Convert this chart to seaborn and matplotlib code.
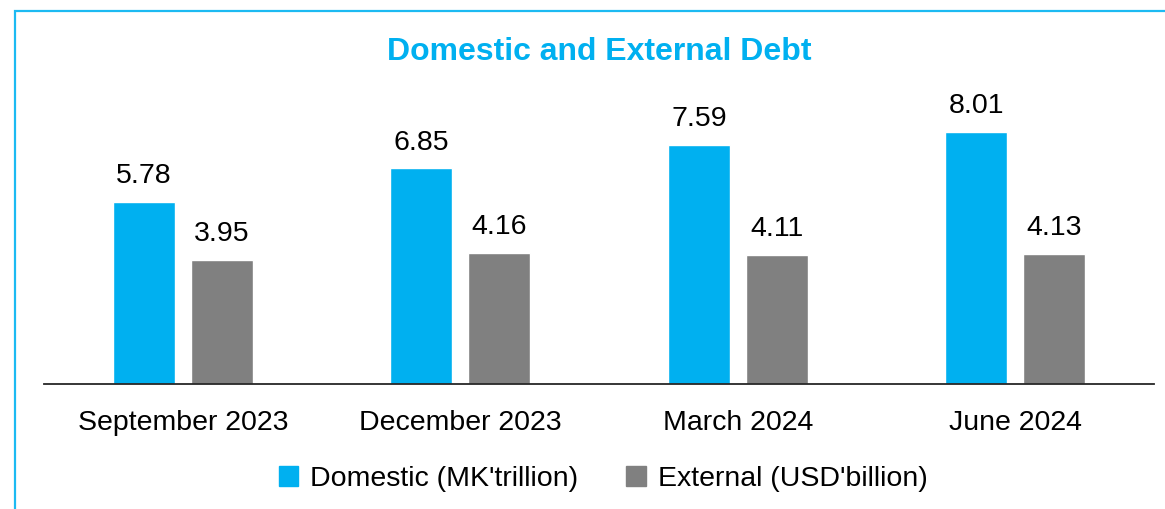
import matplotlib
matplotlib.use("Agg")
import matplotlib.pyplot as plt
import seaborn as sns
import pandas as pd
from matplotlib.patches import Rectangle

categories = ["September 2023", "December 2023", "March 2024", "June 2024"]
domestic = [5.78, 6.85, 7.59, 8.01]
external = [3.95, 4.16, 4.11, 4.13]
series_names = ["Domestic (MK'trillion)", "External (USD'billion)"]
colors = ["#00B0F0", "#808080"]

df = pd.DataFrame({
    "period": categories * 2,
    "value": domestic + external,
    "series": [series_names[0]] * 4 + [series_names[1]] * 4,
})

sns.set_theme(style="white")
plt.rcParams["font.family"] = ["Liberation Sans", "DejaVu Sans"]
plt.rcParams["text.color"] = "black"

W, H = 1165, 509
fig = plt.figure(figsize=(W / 100, H / 100), dpi=100)
ax_top = 1 - (384 - 9 * 31.5) / H
ax = fig.add_axes([44 / W, (H - 384) / H, (1154 - 44) / W, ax_top - (H - 384) / H])

sns.barplot(data=df, x="period", y="value", hue="series", palette=colors,
            width=0.56, gap=0.2, ax=ax, legend=False, saturation=1)

ax.set_xlim(-0.5, 3.5)
ax.set_ylim(0, 9)
ax.set_xlabel("")
ax.set_ylabel("")
ax.set_yticks([])
for s in ["top", "right", "left"]:
    ax.spines[s].set_visible(False)
ax.spines["bottom"].set_color("#262626")
ax.spines["bottom"].set_linewidth(1.3)
ax.tick_params(axis="x", length=0, labelsize=20.5, colors="black", pad=19)

for cont in ax.containers:
    ax.bar_label(cont, fmt="%.2f", padding=9, fontsize=20.5, color="black")

fig.text(599 / W, 1 - 52 / H, "Domestic and External Debt", ha="center", va="center",
         fontsize=23, fontweight="bold", color="#00B0F0")

handles = [Rectangle((0, 0), 1, 1, color=c) for c in colors]
leg = fig.legend(handles, series_names, loc="center", bbox_to_anchor=(603 / W, 1 - 479 / H),
                 ncol=2, frameon=False, fontsize=20.5, handlelength=0.7, handleheight=0.7,
                 handletextpad=0.4, columnspacing=1.7)
for t in leg.get_texts():
    t.set_color("black")

fig.patches.append(Rectangle((14.5 / W, -0.1), 1.2, 1 - 10.5 / H + 0.1, transform=fig.transFigure,
                             fill=False, edgecolor="#1CBAF2", linewidth=1.6, zorder=-1))

fig.savefig("out.png", dpi=100)
